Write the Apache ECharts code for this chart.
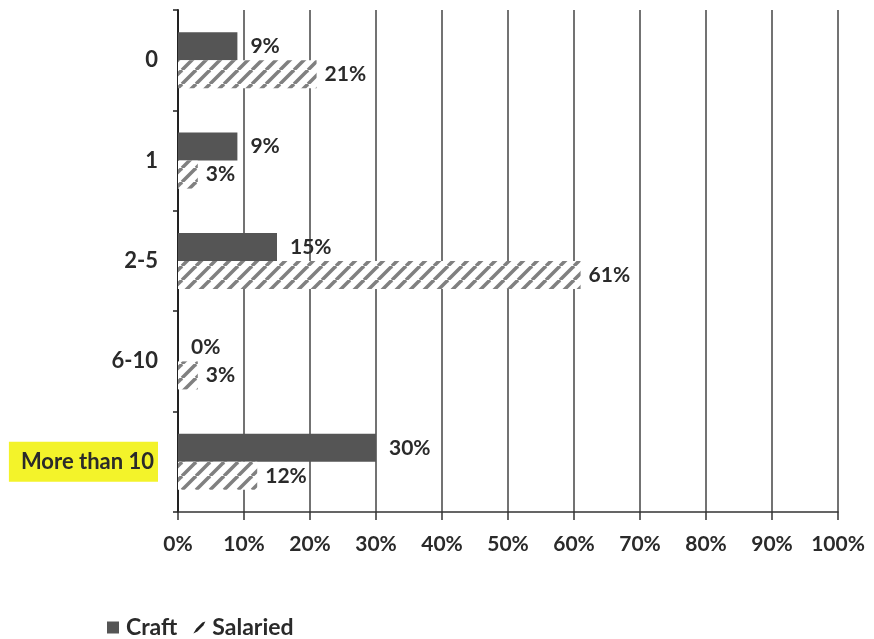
<!DOCTYPE html>
<html><head><meta charset="utf-8">
<script src="https://cdn.jsdelivr.net/npm/echarts@6/dist/echarts.min.js"></script>
<style>html,body{margin:0;padding:0;background:#fff}#c{width:874px;height:639px}</style>
</head><body><div id="c"></div>
<script>
const categories = ['0', '1', '2-5', '6-10', 'More than 10'];
const craftValues = [9, 9, 15, 0, 30];
const salariedValues = [21, 3, 61, 3, 12];
const xTicks = [0, 10, 20, 30, 40, 50, 60, 70, 80, 90, 100];
const highlighted = 'More than 10';

function stripes() {
  const s = 14, c = document.createElement('canvas');
  c.width = s; c.height = s;
  const g = c.getContext('2d');
  g.fillStyle = '#fff'; g.fillRect(0, 0, s, s);
  g.strokeStyle = '#808080'; g.lineWidth = 3.5;
  for (const o of [-s, 0, s]) { g.beginPath(); g.moveTo(o, s); g.lineTo(o + s, 0); g.stroke(); }
  return c;
}
const font = 'Lato, "Open Sans", sans-serif';
const txt = { fontFamily: font, fontSize: 21, fontWeight: 'bold', color: '#2a2a2a' };
const ytxt = Object.assign({}, txt, { fontSize: 22 });
const chart = echarts.init(document.getElementById('c'));
chart.setOption({
  animation: false,
  backgroundColor: '#fff',
  grid: { left: 178, right: 36, top: 10, bottom: 127, containLabel: false },
  legend: {
    left: 102, top: 611, itemGap: 16, itemWidth: 12, itemHeight: 12,
    textStyle: Object.assign({}, txt, { fontSize: 23, padding: [0, 0, 0, 2] }),
    data: [
      { name: 'Craft', icon: 'rect', itemStyle: { color: '#555' } },
      { name: 'Salaried', icon: 'path://M0,12 L3,7 L9,1 L12,0 L10,4 L4,10 Z', itemStyle: { color: '#222' } }
    ]
  },
  xAxis: {
    type: 'value', min: 0, max: 100, interval: 10,
    axisLine: { show: true, lineStyle: { color: '#333', width: 1.5 } },
    axisTick: { show: true, length: 8, lineStyle: { color: '#333', width: 1.5 } },
    splitLine: { show: true, lineStyle: { color: '#444', width: 1.5 } },
    axisLabel: Object.assign({ margin: 22, formatter: v => xTicks.includes(v) ? v + '%' : '' }, txt)
  },
  yAxis: {
    type: 'category', data: categories, inverse: true,
    axisLine: { show: true, lineStyle: { color: '#222', width: 2 } },
    axisTick: { show: true, length: 5, lineStyle: { color: '#222', width: 1.5 } },
    axisLabel: Object.assign({
      margin: 20,
      formatter: v => v === highlighted ? '{hl|' + v + '}' : v,
      rich: { hl: Object.assign({ backgroundColor: '#f3f32a', padding: [9, 4, 9, 12] }, ytxt) }
    }, ytxt)
  },
  series: [
    {
      name: 'Craft', type: 'bar', data: craftValues, barWidth: 28, barGap: '0%',
      itemStyle: { color: '#555' },
      label: Object.assign({ show: true, position: 'right', distance: 13, formatter: p => p.value + '%' }, txt)
    },
    {
      name: 'Salaried', type: 'bar', data: salariedValues, barWidth: 28,
      itemStyle: { color: { image: stripes(), repeat: 'repeat' } },
      label: Object.assign({ show: true, position: 'right', distance: 8, formatter: p => p.value + '%' }, txt)
    }
  ]
});
</script></body></html>
